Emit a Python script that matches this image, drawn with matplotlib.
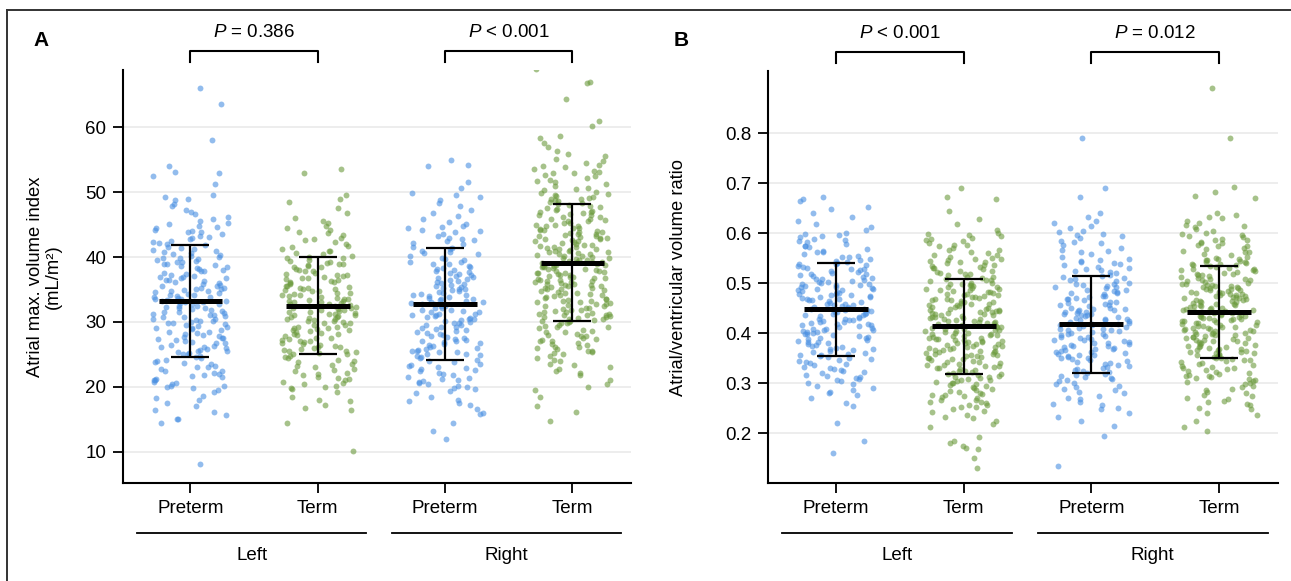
import numpy as np
import matplotlib
matplotlib.use("Agg")
import matplotlib.pyplot as plt
from matplotlib.lines import Line2D

plt.rcParams['font.family'] = ['Liberation Sans', 'DejaVu Sans']
plt.rcParams['mathtext.fontset'] = 'custom'
plt.rcParams['mathtext.it'] = 'Liberation Sans:italic'
plt.rcParams['mathtext.rm'] = 'Liberation Sans'

groups = ['Preterm', 'Term', 'Preterm', 'Term']
sides = ['Left', 'Right']

# ---- panel A: atrial max volume index (mL/m2)
a_left_pre = [
    66.1, 63.6, 58.0, 54.0, 53.1, 53.0, 52.5, 51.2,
    49.5, 49.0, 48.8, 48.2, 47.9, 47.3, 47.0, 46.6, 46.1, 45.8, 45.5, 45.3, 45.1, 49.3,
    44.8, 44.5, 44.2, 44.0, 43.8, 43.5, 43.2, 43.0, 42.8, 42.5, 42.3, 42.0, 41.8, 41.6, 41.4, 41.1,
    40.9, 40.7, 40.5, 40.3, 40.1, 44.6, 43.9, 43.1, 42.2, 41.3, 40.6, 40.0,
    39.8, 39.7, 39.5, 39.3, 39.2, 39.0, 38.8, 38.6, 38.5, 38.3, 38.1, 37.9, 37.8, 37.6, 37.4, 37.2,
    37.0, 36.9, 36.7, 36.5, 36.3, 36.1, 36.0, 35.8, 35.6, 35.5, 35.3, 35.1, 35.0, 39.9, 38.9, 38.0,
    37.1, 36.4, 35.7, 35.2, 39.4, 36.8,
    34.9, 34.8, 34.6, 34.5, 34.3, 34.2, 34.0, 33.9, 33.8, 33.6, 33.5, 33.3, 33.2, 33.1, 33.0, 32.8,
    32.7, 32.5, 32.4, 32.2, 32.1, 32.0, 31.8, 31.7, 31.5, 31.4, 31.2, 31.1, 31.0, 30.8, 30.7, 30.5,
    30.4, 30.2, 30.1, 30.0, 34.7, 34.1, 33.4, 32.9, 32.3, 31.6, 30.9, 30.3, 33.7,
    29.9, 29.7, 29.5, 29.3, 29.1, 28.9, 28.7, 28.5, 28.3, 28.1, 27.9, 27.7, 27.5, 27.3, 27.1, 26.9,
    26.7, 26.5, 26.3, 26.1, 25.9, 25.7, 25.5, 25.3, 25.1, 29.8, 29.0, 28.4, 27.6, 26.8, 26.2, 25.6,
    25.2, 29.4, 28.0, 27.2, 26.0, 25.0,
    24.8, 24.5, 24.2, 24.0, 23.7, 23.5, 23.2, 23.0, 22.7, 22.5, 22.2, 22.0, 21.7, 21.5, 21.2, 21.0,
    20.7, 20.5, 20.2, 20.0, 24.6, 23.9, 23.1, 22.4, 21.8, 21.1, 20.6, 20.1,
    19.8, 19.2, 18.6, 18.0, 17.5, 17.0, 16.5, 16.2, 15.6, 19.5, 18.3,
    15.1, 15.0, 14.4, 8.2]
a_left_term = [
    53.5, 53.0, 49.5, 49.0, 48.4, 47.6, 46.8, 46.0, 45.5, 45.2,
    44.8, 44.5, 44.1, 43.7, 43.4, 43.0, 42.6, 42.3, 42.0, 41.7, 41.5, 41.2, 40.9, 40.6, 40.4, 40.2,
    40.0, 43.9, 42.8, 41.0,
    39.8, 39.6, 39.4, 39.2, 39.0, 38.8, 38.6, 38.4, 38.2, 38.0, 37.8, 37.6, 37.4, 37.2, 37.0, 36.8,
    36.6, 36.4, 36.2, 36.0, 35.8, 35.6, 35.4, 35.2, 35.0, 39.9, 39.1, 38.5, 37.9, 37.3, 36.7, 36.1,
    35.5, 35.1, 38.9, 37.1, 36.3, 35.3,
    34.9, 34.7, 34.5, 34.3, 34.1, 33.9, 33.7, 33.5, 33.3, 33.1, 32.9, 32.7, 32.5, 32.3, 32.1, 31.9,
    31.7, 31.5, 31.3, 31.1, 30.9, 30.7, 30.5, 30.3, 30.1, 34.8, 34.2, 33.6, 33.0, 32.4, 31.8, 31.2,
    30.6, 30.0, 34.4, 33.4, 32.8, 32.0, 31.4, 30.8, 30.2, 33.2, 32.6, 31.6, 30.4, 31.0, 34.0, 32.2,
    29.9, 29.6, 29.3, 29.0, 28.7, 28.4, 28.1, 27.8, 27.5, 27.2, 26.9, 26.6, 26.3, 26.0, 25.7, 25.4,
    25.1, 29.8, 29.2, 28.6, 28.0, 27.4, 26.8, 26.2, 25.6, 25.0, 29.5, 28.9, 28.2, 27.6, 27.0, 26.4,
    25.8, 25.2, 29.1, 28.3, 27.1, 26.1, 25.5, 28.8,
    24.8, 24.4, 24.0, 23.6, 23.2, 22.8, 22.4, 22.0, 21.6, 21.2, 20.8, 20.4, 20.0, 24.6, 23.8, 23.0,
    22.2, 21.4, 20.6, 24.2, 22.6, 21.0, 23.4, 20.2, 21.8,
    19.6, 19.2, 18.4, 17.8, 17.2, 16.8, 16.4, 19.9, 18.0,
    14.5, 10.1]
a_right_pre = [
    55.0, 54.2, 54.0, 51.6, 50.6,
    49.6, 49.2, 48.8, 48.3, 47.8, 47.3, 46.8, 46.3, 45.8, 45.4, 45.1, 49.9,
    44.8, 44.4, 44.0, 43.6, 43.2, 42.8, 42.4, 42.0, 41.6, 41.2, 40.8, 40.4, 40.1, 44.6, 43.8, 43.0,
    42.2, 41.4, 40.6, 44.2, 42.6, 41.0,
    39.8, 39.5, 39.2, 38.9, 38.6, 38.3, 38.0, 37.7, 37.4, 37.1, 36.8, 36.5, 36.2, 35.9, 35.6, 35.3,
    35.0, 39.7, 39.0, 38.4, 37.8, 37.2, 36.6, 36.0, 35.4, 39.3, 38.1, 36.9, 35.7, 37.5, 36.3, 35.1,
    34.9, 34.6, 34.3, 34.0, 33.7, 33.4, 33.1, 32.8, 32.5, 32.2, 31.9, 31.6, 31.3, 31.0, 30.7, 30.4,
    30.1, 34.8, 34.2, 33.6, 33.0, 32.4, 31.8, 31.2, 30.6, 30.0, 34.5, 33.3, 32.1, 30.9, 33.9, 32.7,
    31.5, 30.3, 34.1, 32.9, 31.7, 30.5, 33.5, 31.1,
    29.8, 29.5, 29.2, 28.9, 28.6, 28.3, 28.0, 27.7, 27.4, 27.1, 26.8, 26.5, 26.2, 25.9, 25.6, 25.3,
    25.0, 29.6, 29.0, 28.4, 27.8, 27.2, 26.6, 26.0, 25.4, 29.9, 28.7, 27.5, 26.3, 25.1, 28.1, 26.9,
    25.7, 29.3, 27.0, 25.5,
    24.8, 24.4, 24.0, 23.6, 23.2, 22.8, 22.4, 22.0, 21.6, 21.2, 20.8, 20.4, 20.0, 24.6, 23.8, 23.0,
    22.2, 21.4, 20.6, 24.2, 22.6, 21.0, 23.4, 20.2, 21.8, 22.9, 20.9, 24.9,
    19.6, 19.0, 18.4, 17.8, 17.2, 16.6, 16.0, 19.8, 18.0, 17.5, 19.3, 15.8,
    14.5, 13.2, 12.0]
a_right_term = [
    69.0, 67.0, 66.8, 64.4, 61.0, 60.2,
    58.6, 58.3, 57.5, 57.0, 56.3, 55.8, 55.5, 55.1,
    54.8, 54.5, 54.2, 53.9, 53.6, 53.3, 53.0, 52.7, 52.4, 52.1, 51.8, 51.5, 51.2, 50.9, 50.6, 50.3,
    50.0, 54.0, 52.9, 51.7, 50.5, 53.1,
    49.8, 49.5, 49.2, 48.9, 48.6, 48.3, 48.0, 47.7, 47.4, 47.1, 46.8, 46.5, 46.2, 45.9, 45.6, 45.3,
    45.0, 49.7, 49.1, 48.5, 47.9, 47.3, 46.7, 46.1, 45.5, 49.4, 48.2, 47.0, 45.8, 48.8, 47.6, 46.4,
    45.2, 49.0, 46.9, 45.7,
    44.9, 44.7, 44.5, 44.3, 44.1, 43.9, 43.7, 43.5, 43.3, 43.1, 42.9, 42.7, 42.5, 42.3, 42.1, 41.9,
    41.7, 41.5, 41.3, 41.1, 40.9, 40.7, 40.5, 40.3, 40.1, 44.8, 44.2, 43.6, 43.0, 42.4, 41.8, 41.2,
    40.6, 40.0, 44.4, 43.2, 42.0, 40.8, 43.8, 42.6, 41.4, 40.2, 44.0, 42.8, 41.6, 40.4, 43.4, 41.0,
    39.9, 39.7, 39.5, 39.3, 39.1, 38.9, 38.7, 38.5, 38.3, 38.1, 37.9, 37.7, 37.5, 37.3, 37.1, 36.9,
    36.7, 36.5, 36.3, 36.1, 35.9, 35.7, 35.5, 35.3, 35.1, 39.8, 39.2, 38.6, 38.0, 37.4, 36.8, 36.2,
    35.6, 35.0, 39.4, 38.2, 37.0, 35.8, 39.0, 37.8, 36.6, 35.4, 38.4, 37.2, 36.0, 39.6, 38.8, 37.6,
    36.4, 35.2, 38.6, 37.5, 36.3, 35.7, 39.3,
    34.9, 34.6, 34.3, 34.0, 33.7, 33.4, 33.1, 32.8, 32.5, 32.2, 31.9, 31.6, 31.3, 31.0, 30.7, 30.4,
    30.1, 34.8, 34.2, 33.6, 33.0, 32.4, 31.8, 31.2, 30.6, 30.0, 34.5, 33.3, 32.1, 30.9, 33.9, 32.7,
    31.5, 30.3, 34.1, 32.9, 31.7, 30.5, 33.5, 31.1, 32.0, 30.8, 34.4, 33.2, 31.4, 30.2, 32.6, 31.0,
    29.8, 29.4, 29.0, 28.6, 28.2, 27.8, 27.4, 27.0, 26.6, 26.2, 25.8, 25.4, 25.0, 29.6, 28.8, 28.0,
    27.2, 26.4, 25.6, 29.2, 27.6, 26.0, 28.4, 26.8, 25.2, 29.9, 27.9, 26.1, 28.5, 25.5, 27.1, 29.3,
    24.8, 24.2, 23.6, 23.0, 22.5, 21.8, 21.0, 20.4, 24.5, 23.3, 22.1, 20.0, 24.0, 22.8,
    19.5, 17.0, 16.2, 18.4, 14.8]

a_mean = [33.2, 32.5, 32.8, 39.1]
a_sd = [8.6, 7.5, 8.6, 9.0]
a_pvals = ['$P$ = 0.386', '$P$ < 0.001']

# ---- panel B: atrial/ventricular volume ratio
b_left_pre = [
    0.672, 0.668, 0.664, 0.652, 0.648, 0.640, 0.632, 0.625, 0.618, 0.612, 0.606, 0.601,
    0.598, 0.595, 0.592, 0.588, 0.585, 0.582, 0.578, 0.575, 0.572, 0.568, 0.565, 0.562,
    0.558, 0.555, 0.552, 0.596, 0.586, 0.574, 0.563, 0.553,
    0.548, 0.546, 0.543, 0.541, 0.538, 0.536, 0.533, 0.531, 0.528, 0.526, 0.523, 0.521,
    0.518, 0.516, 0.513, 0.511, 0.508, 0.506, 0.503, 0.501, 0.545, 0.535, 0.525, 0.515,
    0.505, 0.539, 0.529, 0.519, 0.509, 0.502,
    0.499, 0.497, 0.494, 0.492, 0.489, 0.487, 0.484, 0.482, 0.479, 0.477, 0.474, 0.472,
    0.469, 0.467, 0.464, 0.462, 0.459, 0.457, 0.454, 0.452, 0.496, 0.486, 0.476, 0.466,
    0.456, 0.491, 0.481, 0.471, 0.461, 0.451, 0.498, 0.488, 0.478, 0.468, 0.458, 0.493,
    0.473, 0.453,
    0.449, 0.447, 0.444, 0.442, 0.439, 0.437, 0.434, 0.432, 0.429, 0.427, 0.424, 0.422,
    0.419, 0.417, 0.414, 0.412, 0.409, 0.407, 0.404, 0.402, 0.446, 0.436, 0.426, 0.416,
    0.406, 0.441, 0.431, 0.421, 0.411, 0.401, 0.448, 0.438, 0.428, 0.418, 0.408, 0.443,
    0.423, 0.403,
    0.398, 0.395, 0.392, 0.388, 0.385, 0.382, 0.378, 0.375, 0.372, 0.368, 0.365, 0.362,
    0.358, 0.355, 0.352, 0.396, 0.386, 0.376, 0.366, 0.356, 0.391, 0.381, 0.371, 0.361,
    0.351, 0.399, 0.383, 0.369, 0.357, 0.390,
    0.348, 0.344, 0.340, 0.336, 0.332, 0.328, 0.324, 0.320, 0.316, 0.312, 0.308, 0.304,
    0.300, 0.346, 0.338, 0.330, 0.322, 0.314, 0.306, 0.342, 0.326, 0.310,
    0.298, 0.294, 0.290, 0.286, 0.282, 0.280, 0.276, 0.270, 0.260, 0.255,
    0.220, 0.185, 0.160]
b_left_term = [
    0.690, 0.672, 0.668, 0.645, 0.628, 0.618, 0.606, 0.601,
    0.598, 0.595, 0.591, 0.588, 0.584, 0.581, 0.577, 0.574, 0.570, 0.567, 0.563, 0.560,
    0.556, 0.553, 0.596, 0.586, 0.576, 0.566, 0.557, 0.551,
    0.549, 0.546, 0.543, 0.540, 0.537, 0.534, 0.531, 0.528, 0.525, 0.522, 0.519, 0.516,
    0.513, 0.510, 0.507, 0.504, 0.501, 0.548, 0.542, 0.536, 0.530, 0.524, 0.518, 0.512,
    0.506, 0.500, 0.545, 0.533, 0.521, 0.509,
    0.499, 0.497, 0.494, 0.492, 0.489, 0.487, 0.484, 0.482, 0.479, 0.477, 0.474, 0.472,
    0.469, 0.467, 0.464, 0.462, 0.459, 0.457, 0.454, 0.452, 0.496, 0.486, 0.476, 0.466,
    0.456, 0.491, 0.481, 0.471, 0.461, 0.451, 0.498, 0.488, 0.478, 0.468, 0.458, 0.493,
    0.483, 0.473, 0.463, 0.453,
    0.449, 0.447, 0.445, 0.443, 0.441, 0.439, 0.437, 0.435, 0.433, 0.431, 0.429, 0.427,
    0.425, 0.423, 0.421, 0.419, 0.417, 0.415, 0.413, 0.411, 0.409, 0.407, 0.405, 0.403,
    0.401, 0.448, 0.444, 0.440, 0.436, 0.432, 0.428, 0.424, 0.420, 0.416, 0.412, 0.408,
    0.404, 0.400, 0.446, 0.438, 0.430, 0.422, 0.414, 0.406, 0.442,
    0.399, 0.397, 0.395, 0.393, 0.391, 0.389, 0.387, 0.385, 0.383, 0.381, 0.379, 0.377,
    0.375, 0.373, 0.371, 0.369, 0.367, 0.365, 0.363, 0.361, 0.359, 0.357, 0.355, 0.353,
    0.351, 0.398, 0.394, 0.390, 0.386, 0.382, 0.378, 0.374, 0.370, 0.366, 0.362, 0.358,
    0.354, 0.350, 0.396, 0.388, 0.380, 0.372, 0.364, 0.356, 0.384,
    0.349, 0.346, 0.343, 0.340, 0.337, 0.334, 0.331, 0.328, 0.325, 0.322, 0.319, 0.316,
    0.313, 0.310, 0.307, 0.304, 0.301, 0.348, 0.342, 0.336, 0.330, 0.324, 0.318, 0.312,
    0.306, 0.300, 0.345, 0.333, 0.321, 0.309, 0.339, 0.327, 0.315, 0.303, 0.335,
    0.298, 0.295, 0.291, 0.288, 0.284, 0.281, 0.277, 0.274, 0.270, 0.267, 0.263, 0.260,
    0.256, 0.253, 0.296, 0.286, 0.276, 0.266, 0.257, 0.292, 0.282, 0.272, 0.262, 0.252,
    0.279,
    0.248, 0.242, 0.236, 0.230, 0.225, 0.218, 0.212, 0.245, 0.233,
    0.192, 0.185, 0.180, 0.175, 0.170, 0.168, 0.150, 0.130]
b_right_pre = [
    0.790, 0.690, 0.672,
    0.640, 0.632, 0.625, 0.620, 0.615, 0.610, 0.605, 0.602,
    0.598, 0.594, 0.590, 0.585, 0.580, 0.576, 0.571, 0.567, 0.562, 0.558, 0.553, 0.596,
    0.583, 0.565,
    0.549, 0.545, 0.541, 0.537, 0.533, 0.529, 0.525, 0.521, 0.517, 0.513, 0.509, 0.505,
    0.501, 0.547, 0.539, 0.531, 0.523, 0.515, 0.507, 0.543, 0.527, 0.511,
    0.499, 0.496, 0.493, 0.490, 0.487, 0.484, 0.481, 0.478, 0.475, 0.472, 0.469, 0.466,
    0.463, 0.460, 0.457, 0.454, 0.451, 0.498, 0.492, 0.486, 0.480, 0.474, 0.468, 0.462,
    0.456, 0.450, 0.495, 0.483, 0.471, 0.459,
    0.449, 0.447, 0.444, 0.442, 0.439, 0.437, 0.434, 0.432, 0.429, 0.427, 0.424, 0.422,
    0.419, 0.417, 0.414, 0.412, 0.409, 0.407, 0.404, 0.402, 0.446, 0.436, 0.426, 0.416,
    0.406, 0.441, 0.431, 0.421, 0.411, 0.401, 0.448, 0.438, 0.428, 0.418, 0.408, 0.443,
    0.399, 0.396, 0.393, 0.390, 0.387, 0.384, 0.381, 0.378, 0.375, 0.372, 0.369, 0.366,
    0.363, 0.360, 0.357, 0.354, 0.351, 0.398, 0.392, 0.386, 0.380, 0.374, 0.368, 0.362,
    0.356, 0.350, 0.395, 0.383, 0.371, 0.359, 0.389, 0.377, 0.365, 0.353,
    0.349, 0.345, 0.341, 0.337, 0.333, 0.329, 0.325, 0.321, 0.317, 0.313, 0.309, 0.305,
    0.301, 0.347, 0.339, 0.331, 0.323, 0.315, 0.307, 0.343, 0.327, 0.311, 0.335, 0.319,
    0.298, 0.292, 0.286, 0.280, 0.274, 0.268, 0.262, 0.256, 0.295, 0.283, 0.271, 0.259,
    0.289, 0.251,
    0.248, 0.240, 0.232, 0.225, 0.215, 0.195, 0.135]
b_right_term = [
    0.890, 0.790, 0.692, 0.682, 0.675, 0.670,
    0.640, 0.636, 0.630, 0.625, 0.620, 0.616, 0.612, 0.608, 0.604, 0.601, 0.632, 0.614,
    0.598, 0.595, 0.592, 0.589, 0.586, 0.583, 0.580, 0.577, 0.574, 0.571, 0.568, 0.565,
    0.562, 0.559, 0.556, 0.553, 0.597, 0.587, 0.575, 0.563, 0.551, 0.581,
    0.549, 0.547, 0.544, 0.542, 0.539, 0.537, 0.534, 0.532, 0.529, 0.527, 0.524, 0.522,
    0.519, 0.517, 0.514, 0.512, 0.509, 0.507, 0.504, 0.502, 0.546, 0.536, 0.526, 0.516,
    0.506, 0.541, 0.531, 0.521, 0.511, 0.501, 0.548, 0.538, 0.528, 0.518, 0.508, 0.543,
    0.499, 0.497, 0.495, 0.493, 0.491, 0.489, 0.487, 0.485, 0.483, 0.481, 0.479, 0.477,
    0.475, 0.473, 0.471, 0.469, 0.467, 0.465, 0.463, 0.461, 0.459, 0.457, 0.455, 0.453,
    0.451, 0.498, 0.494, 0.490, 0.486, 0.482, 0.478, 0.474, 0.470, 0.466, 0.462, 0.458,
    0.454, 0.450, 0.496, 0.488, 0.480, 0.472, 0.464, 0.456, 0.492, 0.476,
    0.449, 0.447, 0.445, 0.443, 0.441, 0.439, 0.437, 0.435, 0.433, 0.431, 0.429, 0.427,
    0.425, 0.423, 0.421, 0.419, 0.417, 0.415, 0.413, 0.411, 0.409, 0.407, 0.405, 0.403,
    0.401, 0.448, 0.444, 0.440, 0.436, 0.432, 0.428, 0.424, 0.420, 0.416, 0.412, 0.408,
    0.404, 0.400, 0.446, 0.438, 0.430, 0.422, 0.414, 0.406, 0.442, 0.426, 0.410, 0.434,
    0.399, 0.396, 0.393, 0.390, 0.387, 0.384, 0.381, 0.378, 0.375, 0.372, 0.369, 0.366,
    0.363, 0.360, 0.357, 0.354, 0.351, 0.398, 0.392, 0.386, 0.380, 0.374, 0.368, 0.362,
    0.356, 0.350, 0.395, 0.383, 0.371, 0.359, 0.389, 0.377, 0.365, 0.353, 0.397, 0.385,
    0.373, 0.361, 0.391, 0.367,
    0.349, 0.345, 0.341, 0.337, 0.333, 0.329, 0.325, 0.321, 0.317, 0.313, 0.309, 0.305,
    0.301, 0.347, 0.339, 0.331, 0.323, 0.315, 0.307, 0.343, 0.327, 0.311, 0.335, 0.319,
    0.303, 0.346, 0.330, 0.314,
    0.298, 0.292, 0.286, 0.280, 0.274, 0.268, 0.262, 0.256, 0.295, 0.283, 0.271, 0.259,
    0.289, 0.251, 0.265, 0.277,
    0.248, 0.240, 0.225, 0.212, 0.205, 0.236]

b_mean = [0.448, 0.414, 0.418, 0.442]
b_sd = [0.093, 0.095, 0.097, 0.092]
b_pvals = ['$P$ < 0.001', '$P$ = 0.012']

BLUE = '#4a90e2'
GREEN = '#6b9a3c'
colors = [BLUE, GREEN, BLUE, GREEN]
FS = 13.5

W, H = 1291, 581
fig = plt.figure(figsize=(W / 100, H / 100), dpi=100)

ax_a = fig.add_axes([123 / W, 1 - 483 / H, 508 / W, 413 / H])
ax_b = fig.add_axes([768 / W, 1 - 483 / H, 510 / W, 412 / H])

rng = np.random.default_rng(7)


def draw_panel(ax, data, mean, sd, pvals, ylim, yticks, ylabel, label_x):
    for i, vals in enumerate(data):
        vals = np.asarray(vals)
        xs = i + rng.uniform(-0.3, 0.3, len(vals))
        ax.scatter(xs, vals, s=18, color=colors[i], alpha=0.6, linewidths=0, zorder=2)
    pos = np.arange(4)
    ax.errorbar(pos, mean, yerr=sd, fmt='none', ecolor='black', elinewidth=1.6,
                capsize=14, capthick=1.6, zorder=4)
    ax.hlines(mean, pos - 0.25, pos + 0.25, color='black', lw=3.6, zorder=5)

    ax.set_xlim(-0.53, 3.46)
    ax.set_ylim(*ylim)
    ax.set_yticks(yticks)
    ax.set_xticks(pos, groups)
    ax.tick_params(axis='both', labelsize=FS, length=7, width=1.3, pad=5)
    ax.yaxis.grid(True, color='#ececec', lw=1.3)
    ax.set_axisbelow(True)
    for s in ['top', 'right']:
        ax.spines[s].set_visible(False)
    for s in ['left', 'bottom']:
        ax.spines[s].set_linewidth(1.5)
    ax.set_ylabel(ylabel, fontsize=13.2, linespacing=1.1)
    ax.yaxis.set_label_coords(label_x, 0.5)

    # brackets with P values
    tr = ax.get_xaxis_transform()
    for k, txt in enumerate(pvals):
        x0, x1 = 2 * k, 2 * k + 1
        ax.plot([x0, x0, x1, x1], [1.019, 1.046, 1.046, 1.019], transform=tr,
                color='black', lw=1.5, clip_on=False)
        ax.text((x0 + x1) / 2, 1.092, txt, transform=tr, ha='center', va='center',
                fontsize=FS)

    # side group lines under the tick labels
    for k, name in enumerate(sides):
        c = 2 * k + 0.48
        ax.plot([c - 0.9, c + 0.9], [-0.121, -0.121], transform=tr, color='black',
                lw=1.3, clip_on=False)
        ax.text(c, -0.175, name, transform=tr, ha='center', va='center', fontsize=FS)


draw_panel(ax_a, [a_left_pre, a_left_term, a_right_pre, a_right_term], a_mean, a_sd,
           a_pvals, (5.2, 68.8), [10, 20, 30, 40, 50, 60],
           'Atrial max. volume index\n(mL/m\u00b2)', -0.12)
draw_panel(ax_b, [b_left_pre, b_left_term, b_right_pre, b_right_term], b_mean, b_sd,
           b_pvals, (0.1, 0.925), [0.2, 0.3, 0.4, 0.5, 0.6, 0.7, 0.8],
           'Atrial/ventricular volume ratio', -0.158)

fig.text(33 / W, 1 - 40 / H, 'A', fontsize=15, fontweight='bold', va='center')
fig.text(674 / W, 1 - 40 / H, 'B', fontsize=15, fontweight='bold', va='center')

# frame around the figure
fx, fy = 7 / W, 1 - 10 / H
fig.add_artist(Line2D([fx, fx], [0, fy], color='#333333', lw=1.4))
fig.add_artist(Line2D([fx, 1], [fy, fy], color='#333333', lw=1.4))

fig.savefig('out.png', dpi=100)
